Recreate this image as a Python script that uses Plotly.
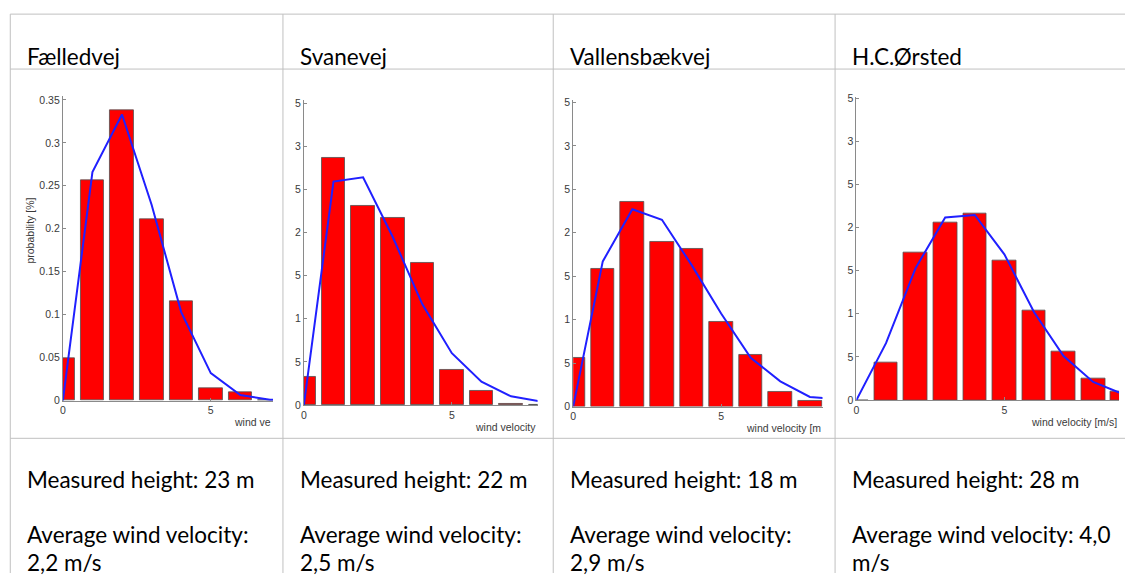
import plotly.graph_objects as go

W, H = 1125, 579

# ---------------- data ----------------
stations = ["Fælledvej", "Svanevej", "Vallensbækvej", "H.C.Ørsted"]
heights = ["Measured height: 23 m", "Measured height: 22 m",
           "Measured height: 18 m", "Measured height: 28 m"]
avg_line1 = ["Average wind velocity:", "Average wind velocity:",
             "Average wind velocity:", "Average wind velocity: 4,0"]
avg_line2 = ["2,2 m/s", "2,5 m/s", "2,9 m/s", "m/s"]

bins = [0, 1, 2, 3, 4, 5, 6, 7, 8, 9]
faelledvej_hist = [0.049, 0.257, 0.338, 0.211, 0.116, 0.014, 0.010, 0.001, 0.0, 0.0]
faelledvej_fit = [0.0, 0.266, 0.333, 0.228, 0.103, 0.032, 0.0065, 0.001, 0.0003, 0.0]
svanevej_hist = [0.032, 0.286, 0.231, 0.217, 0.165, 0.041, 0.016, 0.001, 0.0, 0.0]
svanevej_fit = [0.0, 0.259, 0.264, 0.195, 0.117, 0.060, 0.027, 0.010, 0.004, 0.002]
vallensbaek_hist = [0.056, 0.159, 0.235, 0.190, 0.181, 0.098, 0.059, 0.017, 0.007, 0.0]
vallensbaek_fit = [0.0, 0.167, 0.227, 0.215, 0.163, 0.107, 0.056, 0.029, 0.011, 0.008]
hcorsted_hist = [0.0, 0.0436, 0.171, 0.206, 0.2165, 0.162, 0.104, 0.056, 0.025, 0.0095]
hcorsted_fit = [0.0, 0.066, 0.153, 0.2116, 0.2146, 0.169, 0.102, 0.051, 0.021, 0.007]

hists = [faelledvej_hist, svanevej_hist, vallensbaek_hist, hcorsted_hist]
fits = [faelledvej_fit, svanevej_fit, vallensbaek_fit, hcorsted_fit]

ytick_vals = [0, 0.05, 0.1, 0.15, 0.2, 0.25, 0.3, 0.35]
ytick_full = ["0", "0.05", "0.1", "0.15", "0.2", "0.25", "0.3", "0.35"]
ytick_cut = ["0", "5", "1", "5", "2", "5", "3", "5"]
xlabels = ["wind ve", "wind velocity", "wind velocity [m", "wind velocity [m/s]"]

# ---------------- geometry (pixels) ----------------
panels = [
    dict(x0=60.0, x1=270.7, y0=403.3, ytop=93.0, y35=96.7),
    dict(x0=301.7, x1=536.0, y0=407.7, ytop=96.7, y35=100.0),
    dict(x0=571.7, x1=821.7, y0=409.3, ytop=96.7, y35=99.3),
    dict(x0=855.7, x1=1119.0, y0=402.7, ytop=93.3, y35=95.0),
]
PXU = 29.67  # pixels per x unit
col_left = [7.3, 280.7, 551.7, 834.3]


def px(x):
    return x / W


def py(y):
    return 1 - y / H


fig = go.Figure()
layout = {}
axis_col = "#8a8a8a"
small_font = dict(family="Liberation Sans, Arial", size=10.5, color="#3a3a3a")

for i in range(4):
    p = panels[i]
    n = "" if i == 0 else str(i + 1)
    xr = (p["x1"] - p["x0"]) / PXU
    ymax = 0.35 * (p["y0"] - p["ytop"]) / (p["y0"] - p["y35"])
    fig.add_trace(go.Bar(
        x=bins, y=hists[i], width=0.8,
        marker=dict(color="#ff0000", line=dict(color="#505050", width=0.8)),
        xaxis="x" + n, yaxis="y" + n, showlegend=False))
    fig.add_trace(go.Scatter(
        x=bins, y=fits[i], mode="lines",
        line=dict(color="#2020ff", width=2),
        xaxis="x" + n, yaxis="y" + n, showlegend=False))
    layout["xaxis" + n] = dict(
        domain=[px(p["x0"]), px(p["x1"])], range=[0, xr],
        anchor="y" + n, showgrid=False, zeroline=False,
        showline=True, linecolor=axis_col, linewidth=1,
        ticks="inside", ticklen=3, tickcolor=axis_col,
        tickvals=[0, 5], ticktext=["0", "5"], tickfont=small_font,
        fixedrange=True)
    layout["yaxis" + n] = dict(
        domain=[py(p["y0"]), py(p["ytop"])], range=[0, ymax],
        anchor="x" + n, showgrid=False, zeroline=False,
        showline=True, linecolor=axis_col, linewidth=1,
        ticks="inside", ticklen=3, tickcolor=axis_col,
        tickvals=ytick_vals,
        ticktext=ytick_full if i == 0 else ytick_cut,
        tickfont=small_font, fixedrange=True)

annotations = []
xlab_y = [425, 430, 430.7, 425]
for i in range(4):
    annotations.append(dict(
        x=px(panels[i]["x1"]), y=py(xlab_y[i]), xref="paper", yref="paper",
        text=xlabels[i], showarrow=False, xanchor="right", yanchor="middle",
        font=small_font))
annotations.append(dict(
    x=px(27), y=py(230), xref="paper", yref="paper", text="probability [%]",
    showarrow=False, textangle=-90, xanchor="center", yanchor="middle",
    font=small_font))

txt_font = dict(family="Lato", size=22.5, color="#000000")
for i in range(4):
    xl = col_left[i] + 15
    for txt, yy in [(stations[i], 53), (heights[i], 484),
                    (avg_line1[i], 540), (avg_line2[i], 568)]:
        annotations.append(dict(x=px(xl), y=py(yy), xref="paper", yref="paper",
                                text=txt, showarrow=False, xanchor="left",
                                yanchor="middle", font=txt_font))

grid = "#c0c0c0"
shapes = []
for yy in [9.3, 65.3, 441.7]:
    shapes.append(dict(type="line", xref="paper", yref="paper",
                       x0=px(col_left[0]), x1=1, y0=py(yy), y1=py(yy),
                       line=dict(color=grid, width=1)))
for xx in col_left:
    shapes.append(dict(type="line", xref="paper", yref="paper",
                       x0=px(xx), x1=px(xx), y0=py(9.3), y1=0,
                       line=dict(color=grid, width=1)))

fig.update_layout(
    width=W, height=H, margin=dict(l=0, r=0, t=0, b=0),
    paper_bgcolor="white", plot_bgcolor="white",
    showlegend=False, bargap=0, annotations=annotations, shapes=shapes,
    **layout)

fig.write_html(
    "out.html", config={"displayModeBar": False},
    post_script="document.body.style.margin='0';document.body.style.padding='0';"
                "document.body.style.overflow='hidden';")
